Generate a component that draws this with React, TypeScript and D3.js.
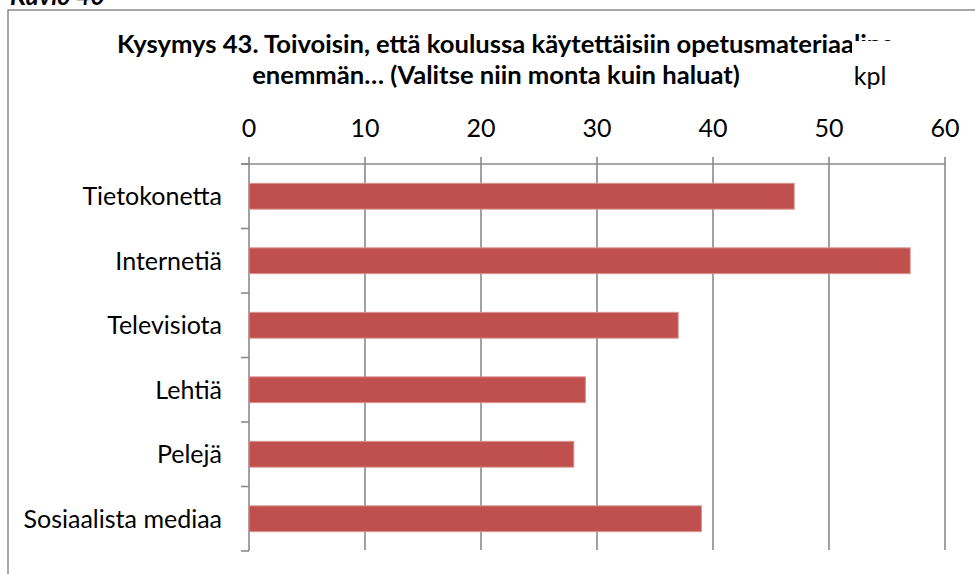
import React from "react";
import * as d3 from "d3";

const categories = ["Tietokonetta", "Internetiä", "Televisiota", "Lehtiä", "Pelejä", "Sosiaalista mediaa"];
const values = [47, 57, 37, 29, 28, 39];
const tickValues = [0, 10, 20, 30, 40, 50, 60];
const titleLines = [
  "Kysymys 43. Toivoisin, että koulussa käytettäisiin opetusmateriaalina",
  "enemmän… (Valitse niin monta kuin haluat)",
];
const axisTitle = "kpl";
const figureLabel = "Kuvio 40";

const W = 975;
const H = 574;
const FONT = "Lato, 'Open Sans', sans-serif";
const GRID = "#8a8a8a";

export default function App() {
  const x = d3.scaleLinear().domain([0, 60]).range([249, 945]);
  const y = d3.scaleBand<string>().domain(categories).range([164, 551]).paddingInner(0.6).paddingOuter(0.3);
  const step = y.step();
  const y0 = 164;
  const boundaries = d3.range(categories.length + 1).map((i) => y0 + i * step);

  return (
    <svg width={W} height={H} style={{ position: "absolute", left: 0, top: 0 }} fontFamily={FONT}>
      <rect x={0} y={0} width={W} height={H} fill="#fff" />
      <text x={10} y={5} fontSize={25} fontWeight="bold" fontStyle="italic" fill="#000">{figureLabel}</text>
      <rect x={8} y={10} width={W + 20} height={H + 20} fill="#fff" stroke={GRID} strokeWidth={1.5} />
      {/* title */}
      <text x={117} y={53} textAnchor="start" fontSize={25.6} fontWeight="bold" fill="#000">{titleLines[0]}</text>
      <text x={496} y={84} textAnchor="middle" fontSize={25.6} fontWeight="bold" fill="#000">{titleLines[1]}</text>
      {/* axis title with white box */}
      <rect x={852} y={41} width={50} height={50} fill="#fff" />
      <text x={870} y={85} textAnchor="middle" fontSize={25} fill="#000">{axisTitle}</text>
      {/* gridlines */}
      {tickValues.map((v) => (
        <line key={v} x1={x(v)} x2={x(v)} y1={157} y2={v === 0 ? 551 : 550} stroke={GRID} strokeWidth={1.6} />
      ))}
      {/* top axis line */}
      <line x1={241} x2={x(60)} y1={y0} y2={y0} stroke={GRID} strokeWidth={1.6} />
      {/* category ticks */}
      {boundaries.map((b, i) => (
        <line key={i} x1={241} x2={249} y1={b} y2={b} stroke={GRID} strokeWidth={1.6} />
      ))}
      {/* tick labels */}
      {tickValues.map((v) => (
        <text key={v} x={x(v)} y={137} textAnchor="middle" fontSize={25} fill="#000">{v}</text>
      ))}
      {/* bars */}
      {categories.map((c, i) => (
        <rect key={c} x={x(0)} y={y(c)!} width={x(values[i]) - x(0)} height={y.bandwidth()} fill="#C0504D" stroke="#D9938F" strokeWidth={1} />
      ))}
      {/* category labels */}
      {categories.map((c) => (
        <text key={c} x={222} y={y(c)! + y.bandwidth() / 2} dy="0.36em" textAnchor="end" fontSize={25} fill="#000">{c}</text>
      ))}
    </svg>
  );
}
